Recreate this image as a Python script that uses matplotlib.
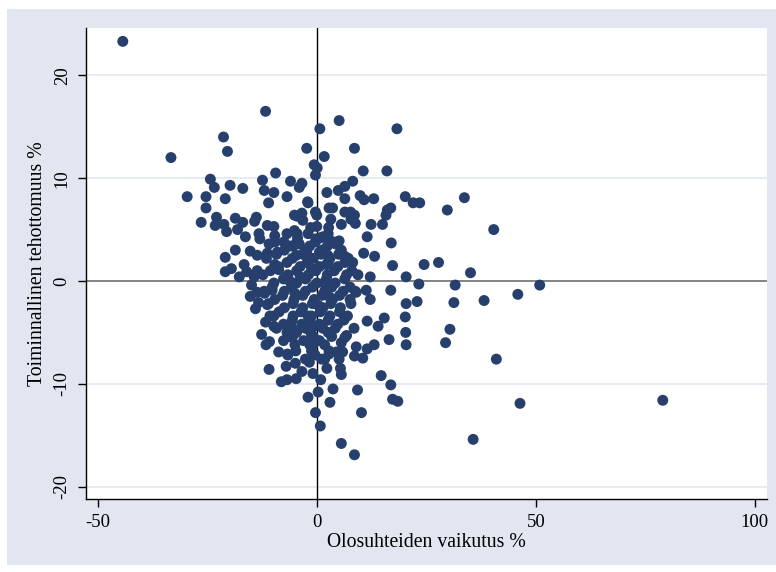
import matplotlib
matplotlib.use("Agg")
import matplotlib.pyplot as plt
from matplotlib.patches import Rectangle

# scattered points (x = olosuhteiden vaikutus %, y = toiminnallinen tehottomuus %)
outer_x = [-44.3, -33.3, -11.7, -21.3, -20.4, -29.6, 0.7, 5.1, 18.3, -2.3, 8.6, 1.7, -0.6, 0.1,
           -0.3, 16.0, 10.6, -9.4, -24.3, -23.4, -19.8, -16.9, -25.3, -20.9, -12.4, -12.0, -9.8,
           -11.0, -6.8, -6.0, -3.4, -4.0, -2.1, 2.3, 4.9, 6.4, 8.2, 6.4, 9.9, 10.8, 13.0, 20.2,
           22.0, 23.5, 33.7, 29.8, 40.4, 16.1, 16.9, 15.8, 2.8, 3.6, 6.4, 7.7, 8.6, 7.8, 8.8,
           12.4, 15.0, 5.6, 3.2, 2.7, -0.3, -3.4, -4.5, -2.0, 11.5, 17.0, 5.1, 13.2, 10.7, 6.4,
           8.2, 17.3, 24.5, 27.8, 35.1, 20.4, 23.3, 31.6, 50.9, 45.9, 38.2, 22.9, 31.3, 20.4,
           16.9, 12.2, 11.3, 12.2, 9.0, 20.2, 15.4, 11.5, 14.0, 20.3, 30.4, 29.4, 20.4, 16.5,
           13.1, 11.5, 41.0, 10.5, 8.6, 9.0, 14.7, 16.9, 17.3, 18.5, 79.0, 46.4, 35.7, 9.3,
           10.2, 3.7, 3.0, 0.3, -2.0, -0.3, 0.8, 5.6, 8.6, 0.9, 2.3, 5.6, 5.4, -4.7, -8.1, -6.8,
           -10.9, -3.4, -0.9, -1.7, -7.0, -4.9, -8.7, -6.7, -11.6, -10.8, -12.6, -9.8, -11.7,
           -6.8, -5.6, 6.8, 8.5, 5.6, 6.4, 4.5, 5.9, 5.1, 2.8, 1.1, -0.9, -1.7, -15.2, -14.0,
           -13.3, -11.3, -10.7, -13.6, -11.9, -10.2, -20.9, -20.9, -18.6, -19.5, -17.7, -16.6,
           -16.0, -14.3, -14.9, -13.6, -15.2, -13.6, -16.3, -18.1, -20.6, -21.2, -23.2, -22.9,
           -25.3, -26.4, -18.6, -16.9, -13.8, -14.2, -13.2, -13.0, -11.3, -9.8, -9.6, -10.9,
           -7.5, -9.0, -11.3, -9.6, -8.7, -5.1, -5.1, -4.5, -3.2, -1.4, 0.0, 0.0, -0.2, 1.4,
           2.8, 4.3, 5.4, 2.5, 0.6, -5.4, -4.0, -4.7, -2.3]
outer_y = [23.3, 12.0, 16.5, 14.0, 12.6, 8.2, 14.8, 15.6, 14.8, 12.9, 12.9, 12.1, 11.3, 11.0,
           10.3, 10.7, 10.7, 10.5, 9.9, 9.1, 9.3, 9.0, 8.2, 8.0, 9.8, 8.8, 8.6, 7.6, 8.2, 9.7,
           9.5, 9.1, 7.7, 8.6, 8.8, 9.2, 9.7, 8.0, 8.3, 7.9, 8.0, 8.2, 7.6, 7.6, 8.1, 6.9, 5.0,
           6.9, 7.1, 6.4, 7.1, 7.1, 6.7, 6.7, 6.4, 6.0, 5.6, 5.5, 5.5, 5.5, 6.0, 5.2, 6.7, 6.6,
           6.3, 7.6, 4.3, 3.7, 3.9, 2.4, 2.7, 2.4, 1.8, 1.5, 1.6, 1.8, 0.8, 0.4, -0.3, -0.4,
           -0.4, -1.3, -1.9, -2.0, -2.1, -2.2, -0.9, -1.8, -0.9, 0.4, -1.1, -3.5, -3.6, -3.9,
           -4.4, -5.0, -4.7, -6.0, -6.2, -5.7, -6.2, -6.6, -7.6, -7.5, -7.3, -6.4, -9.2, -10.1,
           -11.5, -11.7, -11.6, -11.9, -15.4, -10.6, -12.8, -10.5, -11.8, -10.8, -11.3, -12.8,
           -14.1, -15.8, -16.9, -9.6, -8.5, -9.1, -8.5, -9.5, -9.8, -9.6, -8.6, -8.8, -9.0,
           -7.9, -8.3, -8.0, -6.9, -7.1, -6.2, -5.9, -5.2, -4.4, -4.0, -5.0, -5.5, -5.3, -4.6,
           -6.0, -5.5, -6.9, -6.9, -7.6, -7.1, -7.6, -6.2, -5.9, -1.5, -2.7, -2.1, -2.3, -3.4,
           -1.1, -1.2, -0.9, 0.9, 2.3, 3.0, 1.2, 0.4, 1.6, 0.9, 0.4, -0.4, 1.0, 2.9, 2.5, 4.3,
           5.0, 4.8, 5.5, 5.4, 6.2, 7.1, 5.7, 6.1, 5.7, 6.2, 5.8, 4.6, 4.1, 5.4, 5.3, 4.4, 3.6,
           3.8, 2.8, 2.7, 1.6, 1.1, 6.4, 4.9, 4.6, 5.9, 5.2, 5.3, 6.4, 4.1, 4.3, 4.0, 3.6, 2.8,
           2.5, 2.8, 3.4, 3.6, 2.5, 2.8]

# central cloud, row by row (dense, with small gaps as in the picture)
cloud_rows = {
    4.6: [-6.8, -2.0, 2.6],
    4.2: [-4.4, 0.8],
    3.8: [-9.5, -4.5, -0.3, 3.8],
    3.4: [-6.0, -1.6, 2.4],
    3.0: [-7.4, -2.6, 1.2, 5.6],
    2.6: [-9.2, -3.2, 1.0, 5.0],
    2.2: [-11.5, -5.6, -0.8, 3.0, 7.2],
    1.8: [-6.8, -2.2, 2.6, 6.4],
    1.4: [-8.8, -3.8, 0.6, 4.8],
    1.0: [-10.6, -4.6, -0.2, 4.0, 8.0],
    0.6: [-12.3, -6.6, -1.9, 2.4, 6.8, 9.4],
    0.2: [-7.6, -2.6, 2.2, 6.4],
    -0.2: [-9.8, -4.6, 0.0, 4.2],
    -0.6: [-10.2, -5.8, -1.0, 3.4, 7.6],
    -1.0: [-12.0, -7.4, -2.6, 1.8, 6.0, 8.8],
    -1.4: [-7.8, -3.2, 1.2, 5.2],
    -1.8: [-9.6, -5.2, -0.6, 3.6, 7.6],
    -2.2: [-11.0, -5.4, -1.0, 3.2, 7.8],
    -2.6: [-7.4, -3.2, 1.4, 5.4],
    -3.0: [-8.6, -3.6, 0.8, 5.2],
    -3.4: [-9.8, -5.4, -1.2, 3.0, 7.0],
    -3.8: [-5.6, -1.6, 2.6, 6.2],
    -4.2: [-7.6, -3.4, 0.6, 4.8],
    -4.6: [-9.2, -5.6, -2.6, 1.4, 4.2],
    -5.0: [-4.6, -1.4, 2.6],
    -5.4: [-6.0, -0.8, 3.4],
    -5.8: [-7.6, -3.0, 0.6],
    -6.2: [-5.0, -1.6, 1.8],
    -6.8: [-4.8, -1.2, 2.8],
    -7.2: [-6.6, -0.4],
    -7.6: [-2.6, 1.8],
}

# a few extra points where the core is most crowded
core_x = [-3.8, -1.2, 1.6, -5.0, 0.4, 3.0, -2.0, 2.2, -6.2, -0.6]
core_y = [0.4, 1.2, -0.2, -1.2, -2.4, -1.6, -3.4, 1.6, 0.0, -4.4]

x_vals = list(outer_x) + core_x
y_vals = list(outer_y) + core_y
for yy, xs in cloud_rows.items():
    x_vals += xs
    y_vals += [yy] * len(xs)

plt.rcParams['font.family'] = ['Liberation Serif', 'DejaVu Serif']
plt.rcParams['axes.unicode_minus'] = False

W, H = 776, 572
fig = plt.figure(figsize=(W / 100, H / 100), dpi=100, facecolor='white')
fig.patches.append(Rectangle((7 / W, 1 - 565 / H), 1 - 7 / W, (565 - 9) / H,
                             transform=fig.transFigure, facecolor='#E1E6F0',
                             edgecolor='none', zorder=-5))

ax = fig.add_axes([86 / W, 1 - 499 / H, (767 - 86) / W, (499 - 28) / H])
ax.set_facecolor('white')

for yt in [-20, -10, 10, 20]:
    ax.axhline(yt, color='#E4E9F3', lw=1.3, zorder=1)
ax.axhline(0, color='#6E6E6E', lw=1.2, zorder=1)
ax.axvline(0, color='black', lw=1.0, zorder=1)

ax.scatter(x_vals, y_vals, s=62, color='#263F6C', edgecolors='none', zorder=3)

ax.set_xlim(-52.7, 102.8)
ax.set_ylim(-21.2, 24.6)
ax.set_xticks([-50, 0, 50, 100])
ax.set_yticks([-20, -10, 0, 10, 20])
for s in ['top', 'right']:
    ax.spines[s].set_visible(False)
for s in ['left', 'bottom']:
    ax.spines[s].set_color('black')
    ax.spines[s].set_linewidth(1.0)
ax.tick_params(direction='out', length=6, width=1, labelsize=13.5, pad=5)
plt.setp(ax.get_yticklabels(), rotation=90, va='center')

ax.set_xlabel("Olosuhteiden vaikutus %", fontsize=14.2, labelpad=1)
ax.set_ylabel("Toiminnallinen tehottomuus %", fontsize=14.2, labelpad=5)

fig.savefig("out.png", dpi=100, facecolor=fig.get_facecolor())
